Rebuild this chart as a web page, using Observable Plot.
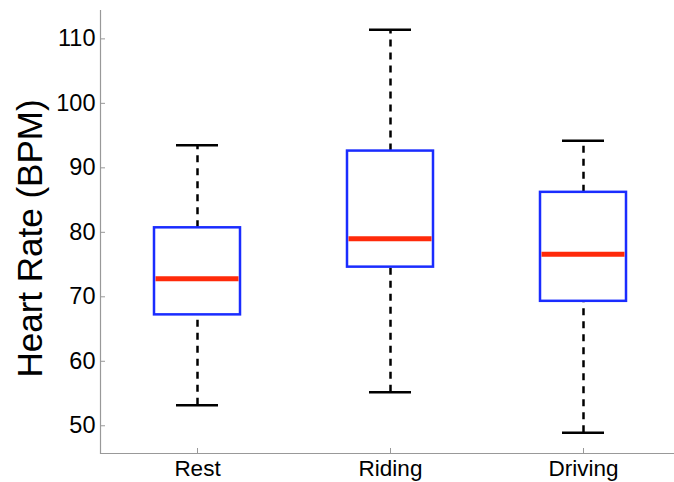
<!DOCTYPE html>
<html>
<head>
<meta charset="utf-8">
<script src="https://cdn.jsdelivr.net/npm/d3@7"></script>
<script src="https://cdn.jsdelivr.net/npm/@observablehq/plot@0.6"></script>
<style>
  html, body { margin: 0; padding: 0; background: #fff; }
  #chart svg { display: block; }
</style>
</head>
<body>
<div id="chart"></div>
<script>
const categories = ["Rest", "Riding", "Driving"];
const whiskerLow = [53.2, 55.2, 48.9];
const q1 = [67.2, 74.6, 69.3];
const median = [72.8, 79.0, 76.6];
const q3 = [80.7, 92.6, 86.2];
const whiskerHigh = [93.5, 111.4, 94.2];
const yTicks = [50, 60, 70, 80, 90, 100, 110];
const yDomain = [45.7, 114.4];

const data = categories.map((c, i) => ({
  cat: c, lo: whiskerLow[i], q1: q1[i], med: median[i], q3: q3[i], hi: whiskerHigh[i]
}));

const chart = Plot.plot({
  width: 674,
  height: 482,
  marginLeft: 100,
  marginRight: 0,
  marginTop: 10,
  marginBottom: 29,
  style: { fontFamily: "Liberation Sans, Arial, sans-serif", background: "#fff", overflow: "visible" },
  x: { type: "band", domain: categories, range: [100, 681], paddingInner: 0.552, paddingOuter: 0.276 },
  y: { domain: yDomain },
  marks: [
    Plot.frame({ anchor: "left", stroke: "#999", strokeWidth: 1.2 }),
    Plot.ruleY([yDomain[0]], { stroke: "#999", strokeWidth: 1.2 }),
    Plot.axisY({ ticks: yTicks, tickSize: -5, tickPadding: 10, stroke: "#999", fill: "black", fontSize: 23.5, label: null }),
    Plot.axisX({ tickSize: -5, tickPadding: 12, stroke: "#999", fill: "black", fontSize: 22.5, label: null }),
    Plot.ruleX(data, { x: "cat", y1: "q3", y2: "hi", stroke: "black", strokeWidth: 2.5, strokeDasharray: "7,6" }),
    Plot.ruleX(data, { x: "cat", y1: "lo", y2: "q1", stroke: "black", strokeWidth: 2.5, strokeDasharray: "7,6" }),
    Plot.tickY(data, { x: "cat", y: "hi", stroke: "black", strokeWidth: 2.5, inset: 22 }),
    Plot.tickY(data, { x: "cat", y: "lo", stroke: "black", strokeWidth: 2.5, inset: 22 }),
    Plot.barY(data, { x: "cat", y1: "q1", y2: "q3", fill: "white", stroke: "#1a2cff", strokeWidth: 2.5 }),
    Plot.tickY(data, { x: "cat", y: "med", stroke: "#ff2a0a", strokeWidth: 5, inset: 1.5 }),
    Plot.text(["Heart Rate (BPM)"], { frameAnchor: "left", textAnchor: "middle", rotate: -90, dx: -70, dy: 6.5, fontSize: 35, fill: "black" })
  ]
});
document.getElementById("chart").appendChild(chart);
</script>
</body>
</html>
